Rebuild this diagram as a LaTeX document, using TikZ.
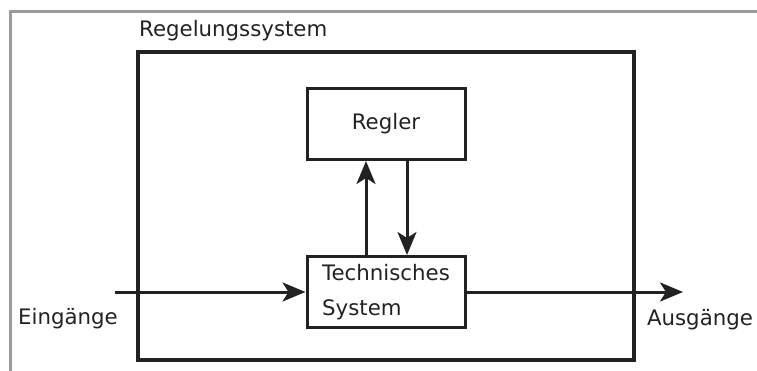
\documentclass[tikz,border=0pt]{standalone}
\usepackage{fontspec}
\setmainfont{DejaVu Sans}
\usepackage{tikz}
\usetikzlibrary{arrows.meta}
\definecolor{rsink}{HTML}{222222}
\definecolor{rsframe}{HTML}{9A9A9A}
\tikzstyle{block} = [draw, line width=3pt, minimum width=158pt, minimum height=71pt, inner sep=0pt]
\tikzstyle{flow} = [line width=3pt, -{Stealth[length=23pt,width=19pt,inset=6pt]}]
\tikzstyle{lbl} = [font=\fontsize{21.3}{35}\selectfont, inner sep=0pt]

\begin{document}
\begin{tikzpicture}[x=1pt, y=-1pt, color=rsink]
    \useasboundingbox (0,0) rectangle (757,371);
    % gray frame, open to the right and bottom
    \draw [rsframe, line width=3pt] (757,12) -| (10,371);
    % the control system as a whole
    \node [draw, line width=4pt, minimum width=496pt, minimum height=308pt] (sys) at (386,206) {};
    \node [lbl, anchor=west] (syslbl) at (139,31) {Regelungssystem};
    % controller and plant
    \node [block, lbl] (reg) at (386,124) {Regler};
    \node [block, lbl, align=left] (ts) at (386,292) {Technisches\\System};
    % signals
    \coordinate (in) at (115,292);
    \coordinate (out) at (683,292);
    \draw [flow] (in) -- (ts.west |- in);
    \draw [flow] (ts.east |- out) -- (out);
    \draw [flow] ([xshift=-20pt]ts.north) -- ([xshift=-20pt]reg.south);
    \draw [flow] ([xshift=21pt]reg.south) -- ([xshift=21pt]ts.north);
    \node [lbl] (inlbl) at (68,319) {Eingänge};
    \node [lbl] (outlbl) at (700,320) {Ausgänge};
\end{tikzpicture}
\end{document}
